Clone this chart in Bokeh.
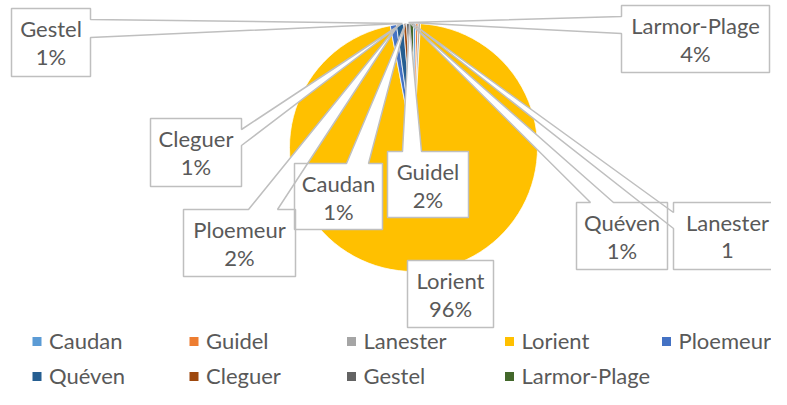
import math
from bokeh.plotting import figure
from bokeh.models import Range1d, ColumnDataSource
from bokeh.core.properties import value
from bokeh.embed import file_html
from bokeh.resources import INLINE

# ---------------- data ----------------
categories = ["Caudan", "Guidel", "Lanester", "Lorient", "Ploemeur",
              "Quéven", "Cleguer", "Gestel", "Larmor-Plage"]
# estimated slice shares (percent of the circle)
shares = [0.3, 0.3, 0.3, 96.1, 0.8, 0.9, 0.4, 0.4, 0.5]
# data-label texts as shown on the chart
label_values = ["1%", "2%", "1", "96%", "2%", "1%", "1%", "1%", "4%"]
colors = ["#5B9BD5", "#ED7D31", "#A5A5A5", "#FFC000", "#4472C4",
          "#255E91", "#9E480E", "#636363", "#43682B"]

# ---------------- layout (reference pixel coordinates) ----------------
CX, CY, RADIUS = 413, 147, 124
# callout boxes: [left, top, right, bottom], pointer side, pointer base, pointer tip
callouts = {
    "Gestel":       ([11, 8, 90, 76],     "right", (19, 37),   (402, 23)),
    "Cleguer":      ([150, 118, 241, 186], "right", (129, 145), (400, 24)),
    "Ploemeur":     ([183, 209, 295, 276], "top",   (248, 277), (398, 24)),
    "Caudan":       ([294, 163, 382, 229], "top",   (346, 368), (405, 23)),
    "Guidel":       ([387, 151, 468, 217], "top",   (402, 421), (409, 23)),
    "Lorient":      ([407, 260, 493, 327], None,    None,       None),
    "Quéven":       ([576, 202, 667, 269], "top",   (590, 613), (410, 23)),
    "Lanester":     ([673, 202, 781, 269], "left",  (212, 228), (412, 23)),
    "Larmor-Plage": ([621, 5, 769, 72],    "left",  (16, 33),   (408, 22)),
}
legend_cols = [36.5, 193.5, 351, 509, 666]
legend_rows = [341, 376]
TEXT_SHIFT = 9   # compensation for where the renderer puts the text baseline

W, H = 771, 389
PAGE_H = 405


def Y(v):
    return PAGE_H - v


p = figure(width=W, height=H,
           x_range=Range1d(0, W), y_range=Range1d(Y(H), Y(0)),
           output_backend="svg", toolbar_location=None,
           x_axis_type=None, y_axis_type=None, min_border=0)
p.outline_line_color = None
p.grid.visible = False
p.background_fill_color = "white"
p.border_fill_color = "white"

# ---------------- pie ----------------
total = sum(shares)
starts, ends = [], []
acc = 0.0
for s in shares:
    starts.append(math.pi / 2 - 2 * math.pi * acc / total)
    acc += s
    ends.append(math.pi / 2 - 2 * math.pi * acc / total)
pie_src = ColumnDataSource(dict(start=starts, end=ends, color=colors,
                                name=categories))
p.wedge(x=CX, y=Y(CY), radius=RADIUS, start_angle="start", end_angle="end",
        direction="clock", fill_color="color", line_color="white",
        line_width=0.75, source=pie_src)

# ---------------- callouts ----------------
xs_all, ys_all = [], []
tx, ty1, ty2, t1, t2 = [], [], [], [], []
for name, lab in zip(categories, label_values):
    (L, T, R, B), side, base, tip = callouts[name]
    pts = [(L, T)]
    if side == "top":
        pts += [(base[0], T), tip, (base[1], T)]
    pts += [(R, T)]
    if side == "right":
        pts += [(R, base[0]), tip, (R, base[1])]
    pts += [(R, B), (L, B)]
    if side == "left":
        pts += [(L, base[1]), tip, (L, base[0])]
    xs_all.append([q[0] for q in pts])
    ys_all.append([Y(q[1]) for q in pts])
    tx.append((L + R) / 2)
    ty1.append(Y(T + 29 - TEXT_SHIFT))
    ty2.append(Y(T + 57 - TEXT_SHIFT))
    t1.append(name)
    t2.append(lab)

p.patches(xs_all, ys_all, fill_color="white", line_color=None)
p.patches(xs_all, ys_all, fill_alpha=0, line_color="#BFBFBF", line_width=1.5)

font = value("Lato")
FS = "22px"
p.text(x=tx, y=ty1, text=t1, text_font=font, text_font_size=FS,
       text_color="#595959", text_align="center", text_baseline="alphabetic")
p.text(x=tx, y=ty2, text=t2, text_font=font, text_font_size=FS,
       text_color="#595959", text_align="center", text_baseline="alphabetic")

# ---------------- legend ----------------
lx, ly, ltx, lty = [], [], [], []
for i, name in enumerate(categories):
    col = i % 5
    row = i // 5
    lx.append(legend_cols[col])
    ly.append(Y(legend_rows[row]))
    ltx.append(legend_cols[col] + 12)
    lty.append(Y(legend_rows[row] + 7.5 - TEXT_SHIFT))
p.rect(x=lx, y=ly, width=9, height=9, fill_color=colors, line_color=None)
p.text(x=ltx, y=lty, text=categories, text_font=font, text_font_size=FS,
       text_color="#595959", text_align="left", text_baseline="alphabetic")

open("out.html", "w").write(file_html(p, INLINE))
